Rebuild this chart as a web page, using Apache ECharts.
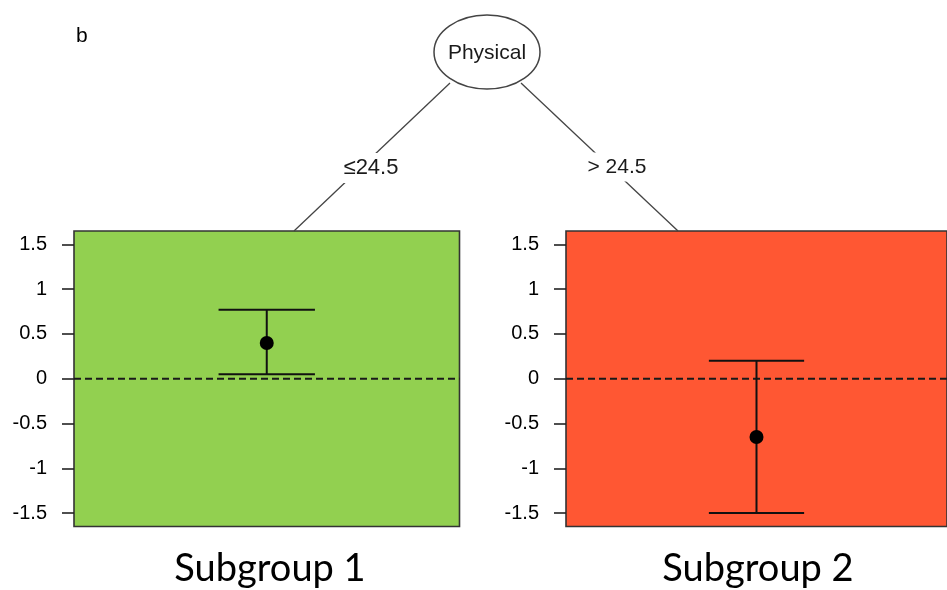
<!DOCTYPE html>
<html><head><meta charset="utf-8">
<script src="https://cdn.jsdelivr.net/npm/echarts@6/dist/echarts.min.js"></script>
<style>html,body{margin:0;padding:0;background:#fff}#c{width:947px;height:590px}</style>
</head><body><div id="c"></div>
<script>
// ---- data ----
const panelLabel = 'b';
const splitVariable = 'Physical';
const splitPoint = 24.5;
const edgeLabels = ['\u2264' + splitPoint, '> ' + splitPoint];
const subgroups = ['Subgroup 1', 'Subgroup 2'];
const estimates = [0.40, -0.65];
const lowerCI = [0.05, -1.50];
const upperCI = [0.77, 0.20];
const yTicks = [-1.5, -1, -0.5, 0, 0.5, 1, 1.5];
const panelColors = ['#92D050', '#FF5733'];

// ---- layout ----
const gridsPos = [
  {left: 74, top: 231, width: 385.5, height: 295.5},
  {left: 566, top: 231, width: 385, height: 295.5}
];
const capHalf = 0.125;
const font = '"Liberation Sans", Arial, sans-serif';

const grid = gridsPos.map((g, i) => Object.assign({}, g, {
  show: true, backgroundColor: panelColors[i], borderColor: '#333', borderWidth: 1.6
}));
const xAxis = gridsPos.map((g, i) => ({type: 'value', gridIndex: i, min: 0, max: 1, show: false}));
const yAxis = gridsPos.map((g, i) => ({
  type: 'value', gridIndex: i, min: -1.65, max: 1.65,
  splitLine: {show: false},
  axisLine: {show: false},
  axisTick: {show: true, customValues: yTicks, length: 12, lineStyle: {color: '#222', width: 1.6}},
  axisLabel: {customValues: yTicks, fontSize: 20, fontFamily: font, color: '#000', margin: 27}
}));

const series = [];
subgroups.forEach((s, i) => {
  series.push({
    type: 'line', xAxisIndex: i, yAxisIndex: i, symbol: 'none', silent: true, z: 2,
    data: [[0, 0], [1, 0]],
    lineStyle: {color: '#1a1a1a', width: 2, type: [7, 4]}
  });
  series.push({
    type: 'custom', xAxisIndex: i, yAxisIndex: i, z: 3,
    data: [[0.5, lowerCI[i], upperCI[i]]],
    renderItem: (params, api) => {
      const x = api.value(0), lo = api.value(1), hi = api.value(2);
      const a = api.coord([x, lo]), b = api.coord([x, hi]);
      const l1 = api.coord([x - capHalf, lo]), r1 = api.coord([x + capHalf, lo]);
      const l2 = api.coord([x - capHalf, hi]), r2 = api.coord([x + capHalf, hi]);
      const st = {stroke: '#111', lineWidth: 2};
      return {type: 'group', children: [
        {type: 'line', shape: {x1: a[0], y1: a[1], x2: b[0], y2: b[1]}, style: st},
        {type: 'line', shape: {x1: l1[0], y1: l1[1], x2: r1[0], y2: r1[1]}, style: st},
        {type: 'line', shape: {x1: l2[0], y1: l2[1], x2: r2[0], y2: r2[1]}, style: st}
      ]};
    }
  });
  series.push({
    type: 'scatter', xAxisIndex: i, yAxisIndex: i, z: 4,
    symbol: 'circle', symbolSize: 14,
    itemStyle: {color: '#000', opacity: 1},
    data: [[0.5, estimates[i]]]
  });
});

const treeStroke = {stroke: '#444', lineWidth: 1.3};
const graphic = [
  {type: 'text', left: 76, top: 26, style: {text: panelLabel, font: '21px ' + font, fill: '#000'}},
  {type: 'line', shape: {x1: 450, y1: 83, x2: 294, y2: 231}, style: treeStroke, z: 1},
  {type: 'line', shape: {x1: 521, y1: 83, x2: 678, y2: 231}, style: treeStroke, z: 1},
  {type: 'ellipse', shape: {cx: 487, cy: 52, rx: 53, ry: 37}, style: {fill: '#fff', stroke: '#444', lineWidth: 1.5}, z: 2},
  {type: 'text', x: 487, y: 53, z: 3, style: {text: splitVariable, font: '21px ' + font, fill: '#1a1a1a', align: 'center', verticalAlign: 'middle'}},
  {type: 'text', x: 371, y: 168, z: 3, style: {text: edgeLabels[0], font: '22px ' + font, fill: '#1a1a1a', align: 'center', verticalAlign: 'middle', backgroundColor: '#fff', padding: [4, 2]}},
  {type: 'text', x: 617, y: 167, z: 3, style: {text: edgeLabels[1], font: '21px ' + font, fill: '#1a1a1a', align: 'center', verticalAlign: 'middle', backgroundColor: '#fff', padding: [4, 2]}},
  {type: 'text', x: 270, y: 569, z: 3, style: {text: subgroups[0], font: '38px Lato, "Open Sans", sans-serif', fill: '#000', align: 'center', verticalAlign: 'middle'}},
  {type: 'text', x: 758, y: 569, z: 3, style: {text: subgroups[1], font: '38px Lato, "Open Sans", sans-serif', fill: '#000', align: 'center', verticalAlign: 'middle'}}
];

const chart = echarts.init(document.getElementById('c'), null, {renderer: 'canvas'});
chart.setOption({animation: false, grid, xAxis, yAxis, series, graphic});
</script>
</body></html>
